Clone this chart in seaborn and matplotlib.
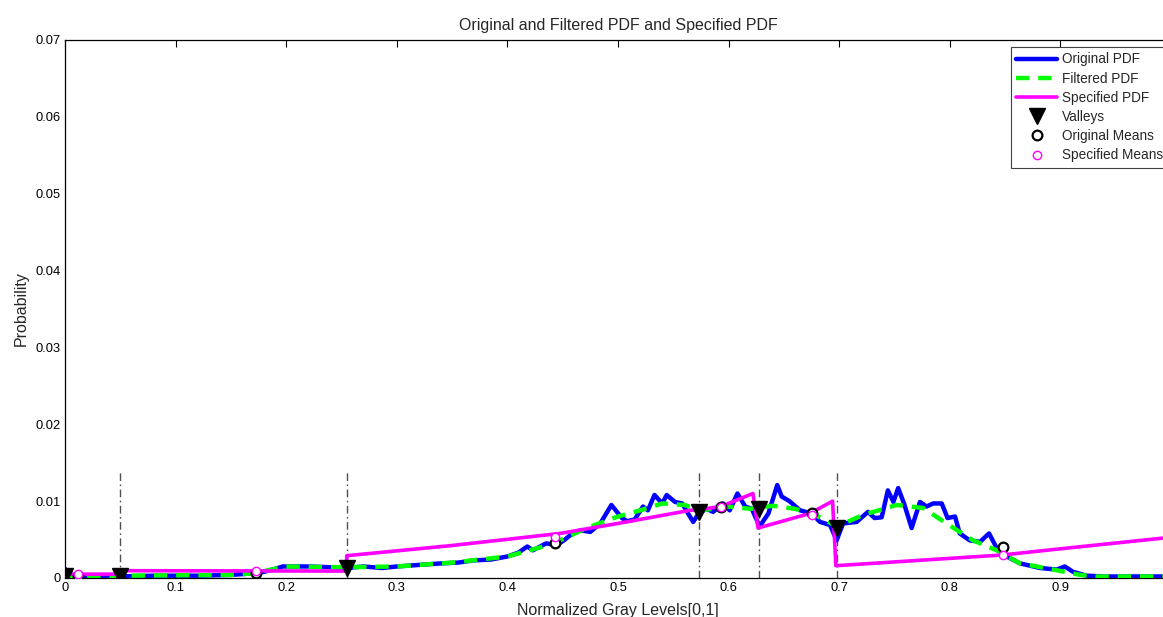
import matplotlib
matplotlib.use("Agg")
import matplotlib.pyplot as plt
import seaborn as sns
from matplotlib.ticker import FixedLocator, FixedFormatter

# original histogram (blue)
orig_x = [0.0, 0.004, 0.01, 0.05, 0.08, 0.12, 0.15, 0.17, 0.18, 0.19, 0.197, 0.22, 0.24,
          0.255, 0.27, 0.287, 0.30, 0.32, 0.34, 0.355, 0.37, 0.385, 0.40, 0.41, 0.418,
          0.423, 0.435, 0.445, 0.452, 0.457, 0.466, 0.475, 0.484, 0.494, 0.5036, 0.508,
          0.515, 0.5226, 0.527, 0.533, 0.54, 0.544, 0.5515, 0.558, 0.565, 0.568, 0.573,
          0.58, 0.586, 0.595, 0.601, 0.608, 0.615, 0.621, 0.628, 0.636, 0.644, 0.648,
          0.655, 0.6646, 0.675, 0.6826, 0.6917, 0.6977, 0.7035, 0.7158, 0.726, 0.732,
          0.7384, 0.744, 0.749, 0.7533, 0.7586, 0.7655, 0.773, 0.779, 0.785, 0.7927,
          0.798, 0.8047, 0.809, 0.818, 0.8273, 0.8355, 0.8424, 0.8515, 0.8635, 0.8816,
          0.8967, 0.904, 0.9114, 0.9238, 0.94, 1.0]
orig_y = [0.0012, 0.0003, 0.0003, 0.0002, 0.0003, 0.0003, 0.0004, 0.0006, 0.0008, 0.0012,
          0.0015, 0.0015, 0.0014, 0.0013, 0.0015, 0.0013, 0.0015, 0.0017, 0.0019, 0.0020,
          0.0023, 0.0024, 0.0028, 0.0033, 0.0041, 0.0036, 0.0045, 0.0043, 0.0050, 0.0056,
          0.0062, 0.0060, 0.0071, 0.0095, 0.0078, 0.0074, 0.0076, 0.0093, 0.0088, 0.0108,
          0.0097, 0.0108, 0.0099, 0.0097, 0.0080, 0.0073, 0.0084, 0.0090, 0.0086, 0.0097,
          0.0088, 0.0110, 0.0093, 0.0090, 0.0067, 0.0084, 0.0121, 0.0106, 0.0100, 0.0088,
          0.0084, 0.0073, 0.0069, 0.0049, 0.0071, 0.0073, 0.0086, 0.0078, 0.0079, 0.0114,
          0.0099, 0.0117, 0.0097, 0.0065, 0.0099, 0.0093, 0.0097, 0.0097, 0.0078, 0.0080,
          0.0058, 0.0049, 0.0047, 0.0058, 0.0039, 0.0028, 0.0019, 0.0013, 0.0011, 0.0015,
          0.0008, 0.0003, 0.0002, 0.0002]

# smoothed histogram (green dashed)
filt_x = [0.0, 0.05, 0.15, 0.17, 0.19, 0.20, 0.25, 0.30, 0.35, 0.40, 0.43, 0.4476, 0.47,
          0.50, 0.52, 0.54, 0.56, 0.575, 0.60, 0.62, 0.64, 0.66, 0.676, 0.698, 0.7215,
          0.752, 0.776, 0.797, 0.821, 0.8424, 0.8635, 0.8933, 0.918, 0.932, 1.0]
filt_y = [0.0003, 0.0003, 0.0004, 0.0006, 0.0012, 0.0015, 0.0014, 0.0015, 0.0020, 0.0028,
          0.0040, 0.0049, 0.0064, 0.0080, 0.0088, 0.0097, 0.0095, 0.0088, 0.0093, 0.0090,
          0.0094, 0.0090, 0.0084, 0.0067, 0.0082, 0.0095, 0.0091, 0.0071, 0.0049, 0.0036,
          0.0019, 0.0011, 0.0004, 0.0002, 0.0002]

# specified pdf (magenta), jumps at the valleys
spec_x = [0.0, 0.05, 0.05, 0.2547, 0.2547, 0.348, 0.4476, 0.50, 0.565, 0.573, 0.593,
          0.622, 0.6266, 0.6736, 0.694, 0.697, 0.848, 0.90, 1.0]
spec_y = [0.0005, 0.0005, 0.00095, 0.0009, 0.0029, 0.0042, 0.0058, 0.0071, 0.0088, 0.0089,
          0.0093, 0.0110, 0.0065, 0.0084, 0.0100, 0.0016, 0.0030, 0.0038, 0.0053]

valley_x = [0.0, 0.05, 0.2547, 0.573, 0.6275, 0.6977]
valley_y = [0.0003, 0.0003, 0.0013, 0.0086, 0.0090, 0.0065]

mean_x = [0.012, 0.173, 0.443, 0.593, 0.675, 0.848]
orig_mean_y = [0.0003, 0.0006, 0.0045, 0.0093, 0.0085, 0.0040]
spec_mean_y = [0.0005, 0.0009, 0.0053, 0.0093, 0.0082, 0.0030]

xticks = [0, 0.1, 0.2, 0.3, 0.4, 0.5, 0.6, 0.7, 0.8, 0.9, 1.0]
xtick_labels = ["0", "0.1", "0.2", "0.3", "0.4", "0.5", "0.6", "0.7", "0.8", "0.9", ""]
yticks = [0, 0.01, 0.02, 0.03, 0.04, 0.05, 0.06, 0.07]
ytick_labels = ["0", "0.01", "0.02", "0.03", "0.04", "0.05", "0.06", "0.07"]

sns.set_theme(style="white")
plt.rcParams["font.family"] = ["Liberation Sans", "DejaVu Sans"]

fig = plt.figure(figsize=(11.63, 6.17), dpi=100)
ax = fig.add_axes([65 / 1163, 39 / 617, 1106 / 1163, 538 / 617])

# valley separators
ax.vlines(valley_x[1:], 0, 0.014, colors="#505050", lw=1,
          linestyles=[(0, (5.5, 2.5, 1.2, 2.5))], zorder=1)

sns.lineplot(x=orig_x, y=orig_y, ax=ax, color="#0000ff", lw=3.2,
             estimator=None, sort=False, label="Original PDF", zorder=2)
sns.lineplot(x=filt_x, y=filt_y, ax=ax, color="#00ff00", lw=3.2,
             estimator=None, sort=False, label="Filtered PDF", zorder=3)
ax.lines[-1].set_dashes([3, 2])
sns.lineplot(x=spec_x, y=spec_y, ax=ax, color="#ff00ff", lw=2.6,
             estimator=None, sort=False, label="Specified PDF", zorder=4)

ax.plot(valley_x, valley_y, ls="none", marker="v", ms=12, color="black",
        label="Valleys", zorder=5)
ax.plot(mean_x, orig_mean_y, ls="none", marker="o", ms=7, mfc="white", mec="black",
        mew=1.6, label="Original Means", zorder=6)
ax.plot(mean_x, spec_mean_y, ls="none", marker="o", ms=6, mfc="white", mec="#ff00ff",
        mew=1.0, label="Specified Means", zorder=7)

ax.set_xlim(0, 1)
ax.set_ylim(0, 0.07)
ax.xaxis.set_major_locator(FixedLocator(xticks))
ax.xaxis.set_major_formatter(FixedFormatter(xtick_labels))
ax.yaxis.set_major_locator(FixedLocator(yticks))
ax.yaxis.set_major_formatter(FixedFormatter(ytick_labels))
ax.tick_params(direction="in", length=5, width=0.8, top=True, right=True,
               labelsize=9.3, colors="black", pad=3)
for s in ax.spines.values():
    s.set_color("black")
    s.set_linewidth(0.9)

ax.set_title("Original and Filtered PDF and Specified PDF", fontsize=11.5, pad=7)
ax.set_xlabel("Normalized Gray Levels[0,1]", fontsize=11.5, labelpad=6)
ax.set_ylabel("Probability", fontsize=11.5, labelpad=5)

leg = ax.legend(loc="upper right", bbox_to_anchor=(1 - 2 / 1106, 1 - 7 / 538),
                fontsize=9.8, frameon=True, fancybox=False, framealpha=1,
                edgecolor="#404040", handlelength=3.0, labelspacing=0.38,
                borderaxespad=0, borderpad=0.4, handletextpad=0.4)
leg.get_frame().set_linewidth(0.8)

fig.savefig("out.png", dpi=100)
